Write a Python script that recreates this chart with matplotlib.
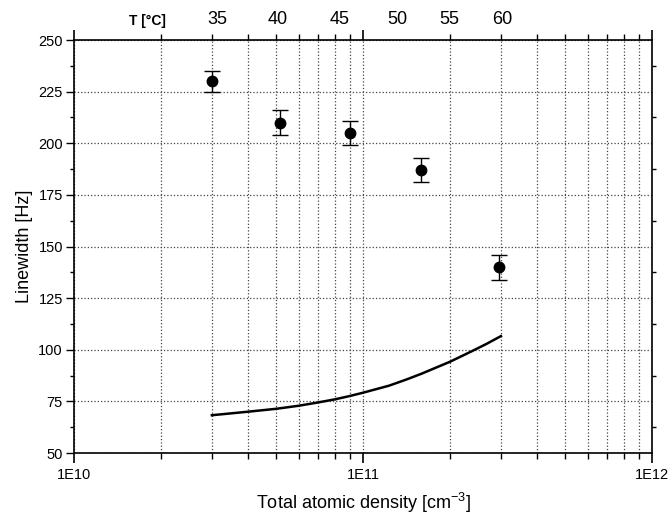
import matplotlib
matplotlib.use("Agg")
import matplotlib.pyplot as plt
from matplotlib.ticker import LogLocator, MultipleLocator, FixedLocator, NullFormatter

plt.rcParams['font.family'] = ['Liberation Sans', 'DejaVu Sans']
plt.rcParams['mathtext.fontset'] = 'custom'
plt.rcParams['mathtext.rm'] = 'Liberation Sans'
plt.rcParams['mathtext.it'] = 'Liberation Sans'

# measured linewidth vs total atomic density
density = [3.0e10, 5.15e10, 9.0e10, 1.59e11, 2.96e11]
linewidth = [230, 210, 205, 187, 140]
err = [5, 6, 6, 6, 6]

# model curve
curve_density = [3e10, 4e10, 5e10, 6e10, 7e10, 8e10, 9e10, 1e11, 1.23e11,
                 1.42e11, 1.6e11, 2e11, 2.38e11, 2.68e11, 3e11]
curve_lw = [68.3, 70.0, 71.4, 72.9, 74.5, 76.0, 77.6, 79.2, 82.6,
            85.7, 88.5, 94.2, 99.3, 102.9, 106.6]

# temperature labels on the top axis
temp_labels = ["35", "40", "45", "50", "55", "60"]
temp_density = [3.14e10, 5.08e10, 8.27e10, 1.31e11, 1.99e11, 3.03e11]

fig = plt.figure(figsize=(6.71, 5.21), dpi=100)
ax = fig.add_axes([0.1103, 0.1305, 0.8614, 0.7927])

ax.set_xscale("log")
ax.set_xlim(1e10, 1e12)
ax.set_ylim(50, 250)

ax.plot(curve_density, curve_lw, color="black", lw=1.8, zorder=3,
        solid_joinstyle="round")
ax.errorbar(density, linewidth, yerr=err, fmt="o", color="black", ms=7.5,
            capsize=6, elinewidth=1.0, capthick=1.0, zorder=4)

# ticks
ax.xaxis.set_major_locator(FixedLocator([1e10, 1e11, 1e12]))
ax.xaxis.set_minor_locator(LogLocator(base=10, subs=range(2, 10)))
ax.xaxis.set_minor_formatter(NullFormatter())
ax.set_xticklabels(["1E10", "1E11", "1E12"])
ax.yaxis.set_major_locator(MultipleLocator(25))
ax.yaxis.set_minor_locator(MultipleLocator(12.5))

ax.tick_params(axis="x", which="major", direction="out", length=7, width=1.2,
               top=True, labelsize=10.5, pad=4)
ax.tick_params(axis="x", which="minor", direction="out", length=4, width=1.0, top=True)
ax.tick_params(axis="y", which="major", direction="out", length=6, width=1.0,
               right=False, labelsize=10.5, pad=2)
ax.tick_params(axis="y", which="minor", direction="out", length=3, width=1.0, right=True)

for s in ax.spines.values():
    s.set_linewidth(1.2)

ax.grid(True, which="both", axis="x", linestyle=":", color="#444444", lw=0.9)
ax.grid(True, which="major", axis="y", linestyle=":", color="#444444", lw=0.9)
ax.set_axisbelow(True)

ax.set_xlabel("Total atomic density [cm$^{\\mathregular{-3}}$]", fontsize=13, labelpad=6)
ax.set_ylabel("Linewidth [Hz]", fontsize=13, labelpad=4)

# top temperature scale
trans = ax.get_xaxis_transform()
ax.text(1.79e10, 1.03, "T [°C]", transform=trans, ha="center", va="bottom",
        fontsize=10, fontweight="bold")
for lab, d in zip(temp_labels, temp_density):
    ax.text(d, 1.03, lab, transform=trans, ha="center", va="bottom", fontsize=13)

fig.savefig("out.png", dpi=100)
